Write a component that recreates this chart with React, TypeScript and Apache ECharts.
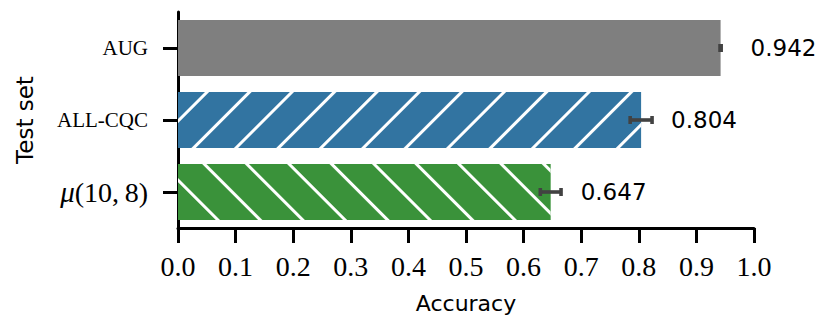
import React, { useEffect, useRef } from "react";
import * as echarts from "echarts";

const categories = ["AUG", "ALL-CQC", "μ(10, 8)"];
const accuracy = [0.942, 0.804, 0.647];
const errors = [0.001, 0.019, 0.018];
const barColors = ["#7f7f7f", "#3274a1", "#3a923a"];
const hatchRotation = [null, -Math.PI / 4, Math.PI / 4];

const SERIF = "'Liberation Serif', 'DejaVu Serif', serif";
const SANS = "'DejaVu Sans', sans-serif";

export default function App() {
  const ref = useRef<HTMLDivElement>(null);
  useEffect(() => {
    document.body.style.margin = "0";
    if (!ref.current) return;
    const chart = echarts.init(ref.current, undefined, { renderer: "svg" });
    const option: any = {
      animation: false,
      backgroundColor: "#ffffff",
      grid: { left: 178, right: 76, top: 12, bottom: 104, containLabel: false, outerBoundsMode: "none" },
      xAxis: {
        type: "value",
        min: 0,
        max: 1,
        interval: 0.1,
        name: "Accuracy",
        nameLocation: "middle",
        nameGap: 64,
        nameTextStyle: { fontFamily: SANS, fontSize: 22, color: "#000" },
        axisLine: { show: true, lineStyle: { color: "#000", width: 3 } },
        axisTick: { show: true, length: 15, lineStyle: { color: "#000", width: 3 } },
        splitLine: { show: false },
        axisLabel: {
          margin: 24,
          fontFamily: SERIF,
          fontSize: 28,
          color: "#000",
          formatter: (v: number) => v.toFixed(1),
        },
      },
      yAxis: {
        type: "category",
        data: categories,
        inverse: true,
        name: "Test set",
        nameLocation: "middle",
        nameGap: 142,
        nameTextStyle: { fontFamily: SANS, fontSize: 23, color: "#000" },
        axisLine: { show: true, lineStyle: { color: "#000", width: 3 } },
        axisTick: { show: true, alignWithLabel: true, length: 15, lineStyle: { color: "#000", width: 3 } },
        splitLine: { show: false },
        axisLabel: {
          margin: 30,
          color: "#000",
          formatter: (v: string) => {
            if (v.startsWith("μ")) return "{it|μ}{n|" + v.slice(1).replace(", ", ",\u2009") + "}";
            return "{sc|" + v + "}";
          },
          rich: {
            it: { fontFamily: SERIF, fontSize: 29, fontStyle: "italic", color: "#000" },
            n: { fontFamily: SERIF, fontSize: 28, color: "#000" },
            sc: { fontFamily: SERIF, fontSize: 21, color: "#000" },
          },
        },
      },
      series: [
        {
          type: "bar",
          barWidth: 56,
          data: accuracy.map((v, i) => ({
            value: v,
            itemStyle: {
              color: barColors[i],
              decal:
                hatchRotation[i] === null
                  ? undefined
                  : {
                      symbol: "rect",
                      symbolSize: 1,
                      color: "#ffffff",
                      dashArrayX: [1, 0],
                      dashArrayY: [3, 27],
                      rotation: hatchRotation[i],
                    },
            },
          })),
          label: {
            show: true,
            position: "right",
            distance: 30,
            fontFamily: SANS,
            fontSize: 23,
            color: "#000",
            formatter: (p: any) => Number(p.value).toFixed(3),
          },
        },
        {
          type: "custom",
          z: 10,
          encode: { x: 0, y: 1 },
          data: accuracy.map((v, i) => [v, i, errors[i]]),
          renderItem: (params: any, api: any) => {
            const v = api.value(0);
            const c = api.value(1);
            const e = api.value(2);
            const p1 = api.coord([v - e, c]);
            const p2 = api.coord([v + e, c]);
            const h = 4;
            const style = { stroke: "#424242", lineWidth: 3.6 };
            return {
              type: "group",
              children: [
                { type: "line", shape: { x1: p1[0], y1: p1[1], x2: p2[0], y2: p2[1] }, style },
                { type: "line", shape: { x1: p1[0], y1: p1[1] - h, x2: p1[0], y2: p1[1] + h }, style },
                { type: "line", shape: { x1: p2[0], y1: p2[1] - h, x2: p2[0], y2: p2[1] + h }, style },
              ],
            };
          },
        },
      ],
    };
    chart.setOption(option);
    return () => chart.dispose();
  }, []);
  return <div ref={ref} style={{ width: 830, height: 332 }} />;
}
